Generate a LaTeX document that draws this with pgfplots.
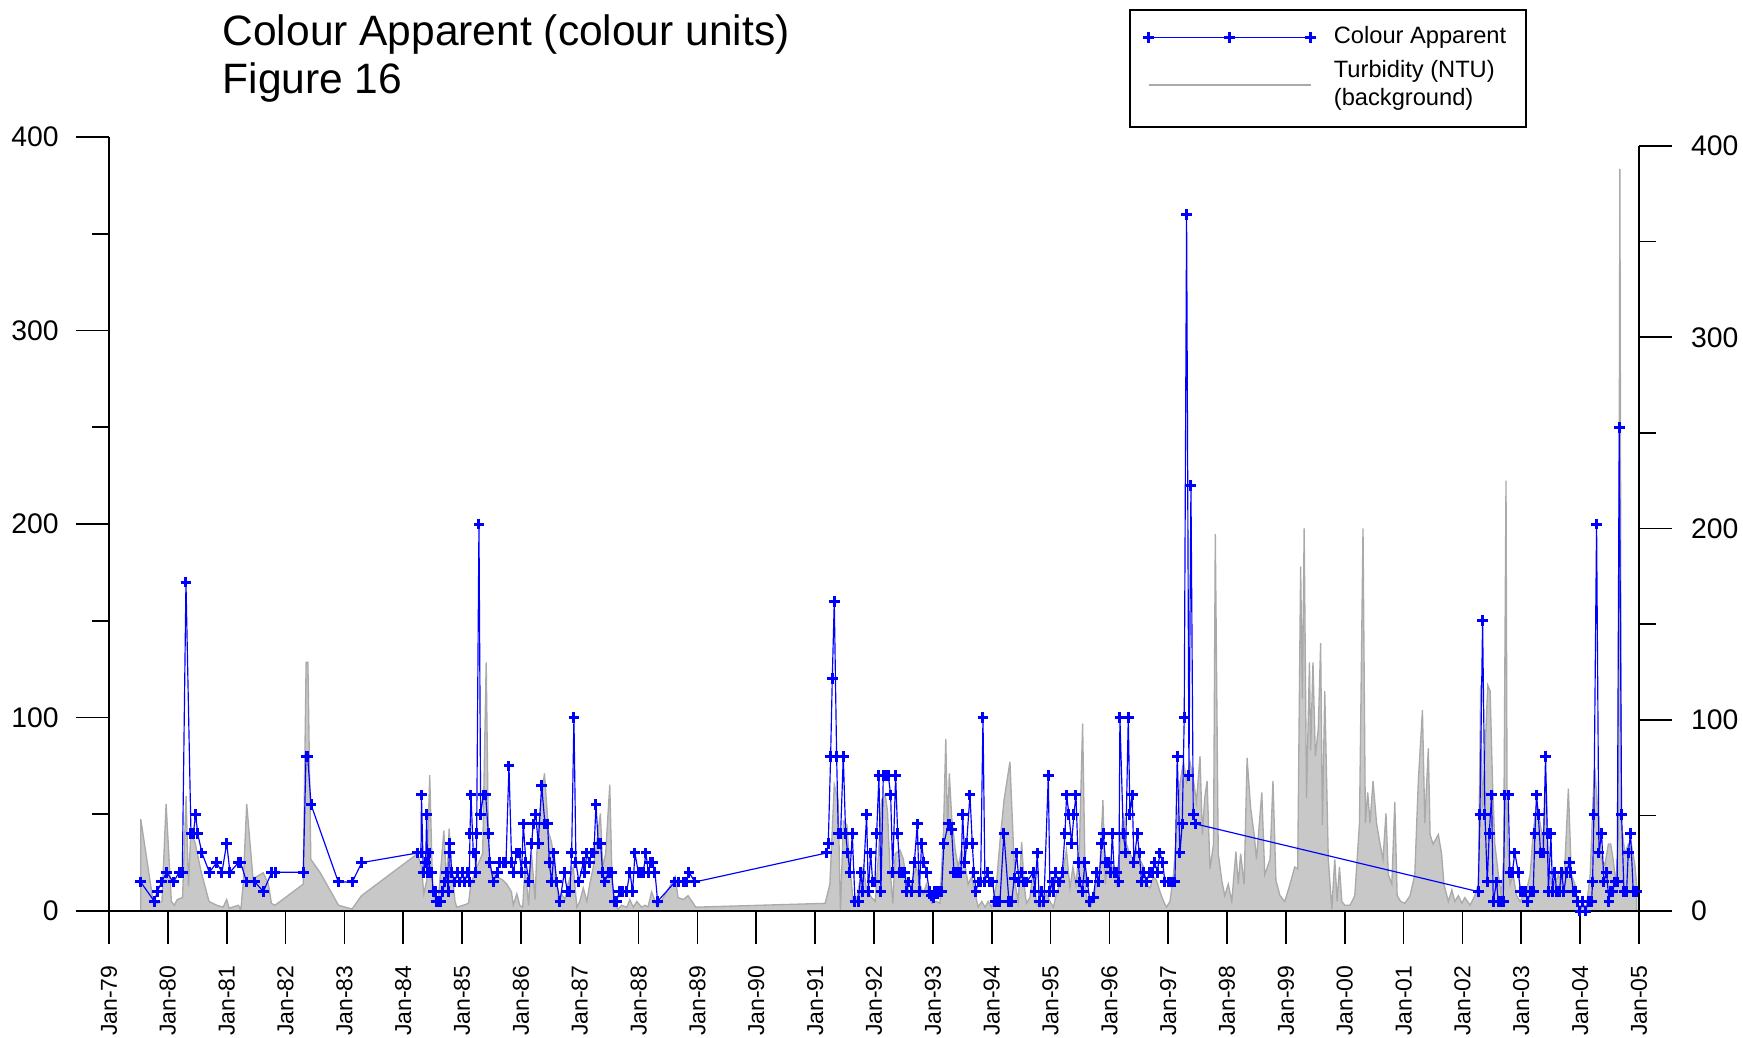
\documentclass[border=0pt]{standalone}
\usepackage{fontspec}
\setmainfont{Liberation Sans}
\usepackage{pgfplots}
\usepackage{pgfplotstable}
\pgfplotsset{compat=1.18}
\definecolor{turbfill}{RGB}{200,200,200}
\definecolor{turbline}{RGB}{170,170,170}
\definecolor{capblue}{RGB}{0,0,255}
\pgfplotsset{
  bluelegend/.style={legend image code/.code={\draw[##1, mark repeat=1] plot coordinates {(0pt,0pt) (24.3pt,0pt) (48.6pt,0pt)};}},
  graylegend/.style={legend image code/.code={\draw[##1] (0pt,0pt) -- (48.6pt,0pt);}},
}

\pgfplotstableread{
yr val
1979.54 48
1979.75 5
1979.82 4
1979.90 5
1979.97 56
1980.06 5
1980.11 3
1980.16 6
1980.25 7
1980.31 60
1980.35 13
1980.39 41
1980.46 36
1980.57 20
1980.70 5
1980.83 3
1980.94 2
1981.00 6
1981.04 1.5
1981.20 3
1981.24 0.5
1981.28 14
1981.34 56
1981.45 16
1981.51 18
1981.62 20
1981.71 14
1981.76 4
1981.82 3
1982.30 14
1982.35 130
1982.38 130
1982.43 27
1982.59 20
1982.90 3
1983.13 1
1983.29 8
1984.245 30
1984.31 23
1984.35 9
1984.40 16
1984.45 71
1984.50 11
1984.54 5
1984.60 7
1984.69 42
1984.74 14
1984.78 43
1984.82 23
1984.88 5
1984.91 2
1985.02 3
1985.11 4
1985.15 14
1985.25 23
1985.35 30
1985.41 130
1985.45 32
1985.50 20
1985.59 18
1985.70 16
1985.76 14
1985.84 10
1985.87 3
1985.93 9
1985.98 3
1986.03 2
1986.07 23
1986.13 3
1986.18 30
1986.24 6
1986.27 30
1986.32 51
1986.40 72
1986.47 41
1986.52 36
1986.58 23
1986.64 5
1986.69 9
1986.75 6
1986.80 14
1986.89 23
1986.95 2
1987.00 5
1987.06 12
1987.12 5
1987.17 14
1987.23 23
1987.29 36
1987.35 51
1987.39 23
1987.44 30
1987.51 66
1987.55 14
1987.60 3
1987.65 1
1987.71 3
1987.80 2
1987.85 6
1987.91 2
1987.97 5
1988.05 2
1988.11 3
1988.16 2
1988.22 10
1988.28 5
1988.32 2
1988.48 10
1988.62 18
1988.67 7
1988.76 6
1988.84 8
1988.93 4
1988.97 2
1991.17 4
1991.25 14
1991.325 66
1991.39 58
1991.43 0.5
1991.48 47
1991.54 45
1991.59 23
1991.65 4
1991.70 5
1991.76 16
1991.82 23
1991.87 12
1991.96 7
1992.02 5
1992.07 27
1992.13 58
1992.19 61
1992.23 52
1992.27 23
1992.32 4
1992.36 30
1992.44 32
1992.50 27
1992.55 14
1992.61 9
1992.67 18
1992.72 23
1992.78 14
1992.84 9
1992.89 14
1992.98 4
1993.06 5
1993.12 4
1993.18 41
1993.22 90
1993.25 41
1993.28 72
1993.32 49
1993.38 32
1993.43 23
1993.49 32
1993.55 23
1993.60 14
1993.66 18
1993.72 9
1993.77 2
1993.83 5
1993.89 2
1993.94 5
1994.00 2
1994.08 14
1994.14 36
1994.21 58
1994.26 68
1994.31 78
1994.36 41
1994.40 14
1994.45 5
1994.51 36
1994.55 14
1994.59 4
1994.65 7
1994.71 23
1994.76 4
1994.82 2
1994.88 5
1994.93 9
1994.99 5
1995.05 2
1995.10 9
1995.16 14
1995.22 23
1995.27 32
1995.33 12
1995.38 23
1995.43 14
1995.49 32
1995.545 98
1995.59 14
1995.63 4
1995.68 2
1995.73 6
1995.78 14
1995.84 23
1995.89 58
1995.93 14
1995.96 23
1996.01 27
1996.07 20
1996.12 14
1996.18 34
1996.24 51
1996.28 36
1996.34 30
1996.41 27
1996.46 32
1996.52 27
1996.58 23
1996.63 14
1996.69 12
1996.75 18
1996.80 16
1996.86 10
1996.92 5
1996.97 2
1997.03 5
1997.09 19
1997.20 67
1997.26 78
1997.31 68
1997.37 78
1997.43 68
1997.48 57
1997.54 81
1997.58 40
1997.62 59
1997.66 68
1997.71 22
1997.77 35
1997.80 197
1997.85 30
1997.91 16
1997.96 8
1998.02 14
1998.08 5
1998.15 31
1998.19 14
1998.23 30
1998.29 14
1998.34 80
1998.40 54
1998.46 40
1998.50 27
1998.59 62
1998.64 19
1998.73 27
1998.78 68
1998.83 16
1998.90 8
1998.98 5
1999.07 14
1999.15 23
1999.20 22
1999.25 180
1999.28 111
1999.31 200
1999.35 59
1999.40 130
1999.42 84
1999.46 130
1999.50 81
1999.55 95
1999.59 140
1999.62 45
1999.66 115
1999.72 27
1999.78 1
1999.83 27
1999.87 5
1999.91 23
1999.95 5
2000.00 3
2000.09 3
2000.17 8
2000.25 46
2000.31 200
2000.35 46
2000.39 62
2000.43 46
2000.48 68
2000.54 46
2000.60 35
2000.65 27
2000.70 51
2000.74 19
2000.80 14
2000.85 57
2000.89 8
2000.95 5
2001.02 4
2001.11 8
2001.19 19
2001.25 68
2001.32 105
2001.36 46
2001.42 85
2001.45 40
2001.50 35
2001.59 40
2001.645 30
2001.685 14
2001.76 5
2001.82 11
2001.87 5
2001.93 8
2001.99 4
2002.04 7
2002.13 3
2002.21 8
2002.27 14
2002.31 118
2002.34 54
2002.38 81
2002.43 118
2002.47 115
2002.51 68
2002.55 35
2002.61 19
2002.66 8
2002.70 27
2002.74 225
2002.76 40
2002.81 14
2002.86 19
2002.92 8
2002.98 5
2003.03 8
2003.09 11
2003.15 19
2003.20 40
2003.26 57
2003.32 46
2003.37 35
2003.42 68
2003.46 24
2003.51 14
2003.57 14
2003.63 19
2003.68 14
2003.74 24
2003.80 64
2003.85 19
2003.91 14
2003.97 3
2004.04 2
2004.11 3
2004.17 19
2004.22 59
2004.25 75
2004.31 46
2004.36 27
2004.42 24
2004.48 35
2004.52 35
2004.56 27
2004.61 14
2004.65 40
2004.675 388
2004.70 46
2004.76 30
2004.82 35
2004.87 35
2004.93 24
2004.96 14
}\turbidity

\pgfplotstableread{
yr val
1979.538 15
1979.770 5
1979.821 10
1979.895 15
1979.980 20
1980.093 15
1980.195 20
1980.246 20
1980.308 170
1980.393 40
1980.433 40
1980.473 50
1980.507 40
1980.580 30
1980.705 20
1980.830 25
1980.920 20
1981.000 35
1981.056 20
1981.198 25
1981.237 25
1981.339 15
1981.481 15
1981.623 10
1981.764 20
1981.821 20
1982.302 20
1982.348 80
1982.376 80
1982.433 55
1982.897 15
1983.135 15
1983.294 25
1984.245 30
1984.302 30
1984.310 60
1984.341 20
1984.381 25
1984.398 50
1984.415 20
1984.438 30
1984.455 20
1984.483 20
1984.511 10
1984.540 10
1984.568 5
1984.608 5
1984.636 5
1984.670 10
1984.709 15
1984.738 20
1984.766 10
1984.783 30
1984.794 35
1984.823 20
1984.879 15
1984.919 20
1984.964 15
1985.010 20
1985.049 15
1985.089 20
1985.123 15
1985.134 40
1985.151 60
1985.191 30
1985.219 30
1985.236 20
1985.248 40
1985.287 200
1985.316 50
1985.361 60
1985.401 60
1985.446 40
1985.474 25
1985.531 15
1985.599 20
1985.644 25
1985.700 25
1985.746 25
1985.797 75
1985.842 25
1985.870 20
1985.927 30
1985.972 30
1986.012 20
1986.040 45
1986.086 25
1986.137 15
1986.182 35
1986.210 45
1986.250 50
1986.295 35
1986.352 65
1986.408 45
1986.454 45
1986.482 25
1986.522 15
1986.561 30
1986.607 15
1986.663 5
1986.737 20
1986.788 10
1986.833 10
1986.862 30
1986.901 100
1986.935 25
1986.986 15
1987.060 25
1987.088 20
1987.117 30
1987.162 25
1987.201 30
1987.241 30
1987.275 55
1987.315 35
1987.354 35
1987.388 20
1987.428 15
1987.485 20
1987.541 20
1987.587 5
1987.626 5
1987.672 10
1987.728 10
1987.796 10
1987.853 20
1987.898 10
1987.938 30
1987.994 20
1988.051 20
1988.079 20
1988.125 30
1988.164 20
1988.204 25
1988.238 25
1988.278 20
1988.323 5
1988.618 15
1988.674 15
1988.759 15
1988.816 15
1988.855 20
1988.957 15
1991.195 30
1991.223 35
1991.263 80
1991.291 120
1991.325 160
1991.365 80
1991.393 40
1991.433 40
1991.478 80
1991.518 40
1991.552 30
1991.592 20
1991.631 40
1991.677 5
1991.733 5
1991.779 20
1991.807 10
1991.875 50
1991.903 10
1991.943 30
1991.977 15
1992.016 15
1992.045 40
1992.084 70
1992.118 10
1992.158 70
1992.198 70
1992.243 70
1992.283 60
1992.317 20
1992.368 70
1992.402 40
1992.441 20
1992.487 20
1992.526 20
1992.555 10
1992.594 15
1992.639 10
1992.685 25
1992.736 45
1992.770 10
1992.809 35
1992.849 25
1992.894 20
1992.940 10
1992.979 8
1993.008 7
1993.036 10
1993.064 10
1993.121 10
1993.149 10
1993.189 35
1993.262 45
1993.291 45
1993.319 42
1993.359 20
1993.404 20
1993.432 20
1993.478 20
1993.506 50
1993.546 25
1993.574 35
1993.631 60
1993.670 35
1993.699 20
1993.733 10
1993.772 15
1993.812 15
1993.852 100
1993.885 15
1993.925 20
1993.971 15
1994.016 15
1994.055 5
1994.095 5
1994.140 5
1994.208 40
1994.293 5
1994.339 5
1994.384 17
1994.424 30
1994.463 15
1994.508 20
1994.537 15
1994.593 15
1994.707 20
1994.735 10
1994.775 30
1994.809 5
1994.848 10
1994.888 5
1994.962 70
1994.990 10
1995.030 15
1995.058 10
1995.086 20
1995.132 15
1995.160 15
1995.200 20
1995.245 40
1995.273 60
1995.313 50
1995.358 35
1995.398 50
1995.432 60
1995.471 25
1995.500 15
1995.539 10
1995.585 25
1995.624 15
1995.670 5
1995.726 7
1995.783 20
1995.823 15
1995.868 35
1995.896 40
1995.936 25
1995.981 25
1996.021 20
1996.049 40
1996.083 20
1996.123 20
1996.162 15
1996.179 100
1996.236 40
1996.276 30
1996.321 100
1996.349 50
1996.389 60
1996.417 25
1996.474 40
1996.508 30
1996.548 15
1996.587 20
1996.633 15
1996.678 20
1996.729 20
1996.774 25
1996.814 20
1996.859 30
1996.905 25
1996.944 15
1997.000 15
1997.057 15
1997.114 15
1997.153 80
1997.199 30
1997.238 45
1997.272 100
1997.312 360
1997.352 70
1997.386 220
1997.425 50
1997.465 45
2002.268 10
2002.297 50
2002.342 150
2002.382 50
2002.421 15
2002.455 40
2002.495 60
2002.523 5
2002.580 15
2002.608 5
2002.648 5
2002.693 5
2002.721 60
2002.778 60
2002.806 20
2002.846 20
2002.891 30
2002.948 20
2002.988 10
2003.033 10
2003.073 10
2003.107 5
2003.157 10
2003.203 10
2003.231 40
2003.259 60
2003.288 50
2003.327 30
2003.373 30
2003.412 80
2003.441 40
2003.460 10
2003.503 40
2003.531 10
2003.571 20
2003.599 10
2003.645 10
2003.684 20
2003.724 10
2003.769 20
2003.815 25
2003.843 20
2003.883 10
2003.922 10
2003.951 5
2003.996 0
2004.041 5
2004.092 0
2004.137 5
2004.194 5
2004.211 15
2004.234 50
2004.279 200
2004.319 30
2004.364 40
2004.404 15
2004.449 20
2004.489 5
2004.517 10
2004.551 10
2004.591 15
2004.630 15
2004.664 250
2004.704 50
2004.744 10
2004.789 10
2004.817 30
2004.857 40
2004.902 10
2004.959 10
}\colourapp

\begin{document}
\begin{tikzpicture}
% right-hand axis: turbidity background
\begin{axis}[
  at={(0,0)}, anchor=south west,
  scale only axis, width=459pt, height=229.5pt,
  xmin=1979, xmax=2005, ymin=0, ymax=400,
  axis x line=none,
  axis y line*=right,
  axis line style={-, black, line width=0.5pt},
  ytick={0,100,200,300,400},
  minor ytick={50,150,250,350},
  tick align=outside,
  major tick length=10pt, minor tick length=5pt,
  every tick/.style={black, line width=0.5pt},
  yticklabel style={font=\fontsize{8.5}{10}\selectfont, xshift=2.1pt},
  /pgf/number format/assume math mode=true,
  clip=false,
]
\addplot[fill=turbfill, draw=turbline, line width=0.4pt] table[x=yr, y=val] {\turbidity} \closedcycle;
\end{axis}
% main axis: colour apparent
\begin{axis}[
  at={(0,0)}, anchor=south west,
  scale only axis, width=459pt, height=232.2pt,
  xmin=1979, xmax=2005, ymin=0, ymax=400,
  axis x line*=bottom, axis y line*=left,
  axis line style={-, black, line width=0.5pt},
  xtick={1979,1980,...,2005},
  xticklabels={Jan-79,Jan-80,Jan-81,Jan-82,Jan-83,Jan-84,Jan-85,Jan-86,Jan-87,Jan-88,Jan-89,Jan-90,Jan-91,Jan-92,Jan-93,Jan-94,Jan-95,Jan-96,Jan-97,Jan-98,Jan-99,Jan-00,Jan-01,Jan-02,Jan-03,Jan-04,Jan-05},
  minor x tick num=1,
  ytick={0,100,200,300,400},
  minor ytick={50,150,250,350},
  tick align=outside,
  major tick length=10pt, minor tick length=5pt,
  every tick/.style={black, line width=0.5pt},
  xticklabel style={rotate=90, anchor=east, font=\fontsize{6.9}{8}\selectfont},
  xticklabel shift=2.8pt,
  yticklabel style={font=\fontsize{8.5}{10}\selectfont, xshift=-1.6pt},
  /pgf/number format/assume math mode=true,
  legend style={at={(0.6667,1.1654)}, anchor=north west, draw=black, line width=0.5pt,
    fill=white, font=\fontsize{7.1}{8.2}\selectfont, inner xsep=4pt, inner ysep=3pt,
    row sep=-0.4pt, column sep=3.4pt, cells={anchor=west, align=left}},
  legend cell align=left,
]
\addplot[capblue, line width=0.35pt, mark=+, mark size=1.6pt,
  mark options={line width=0.9pt, solid}, bluelegend]
  table[x=yr, y=val] {\colourapp};
\addlegendentry{Colour Apparent}
\addlegendimage{turbline, line width=0.6pt, graylegend}
\addlegendentry{Turbidity (NTU)\\(background)}
\end{axis}
\node[anchor=base west, font=\fontsize{12.75}{15}\selectfont, inner sep=0pt] at (33.9pt,259.5pt) {Colour Apparent (colour units)};
\node[anchor=base west, font=\fontsize{12.75}{15}\selectfont, inner sep=0pt] at (33.9pt,245.2pt) {Figure 16};
\pgfresetboundingbox
\useasboundingbox (-32.7pt,-37.8pt) rectangle (490.2pt,273.3pt);
\end{tikzpicture}
\end{document}
